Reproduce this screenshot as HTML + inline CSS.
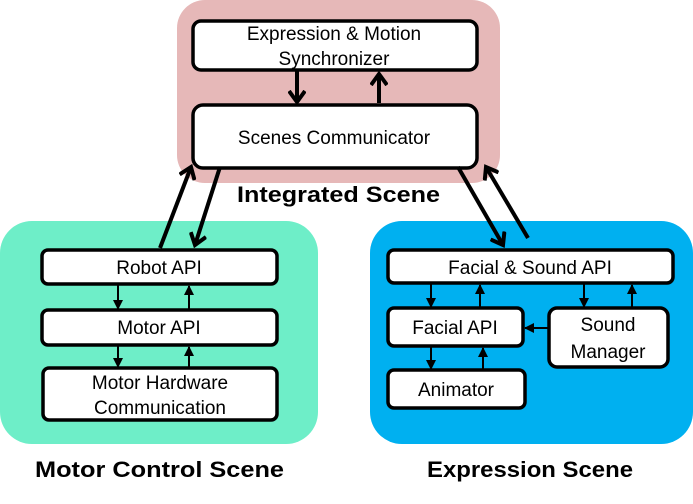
<!DOCTYPE html>
<html><head><style>body{margin:0;background:#fff}svg{display:block}</style></head><body>
<svg width="693" height="504" viewBox="0 0 693 504" xmlns="http://www.w3.org/2000/svg" font-family="Liberation Sans, sans-serif">
<defs>
<marker id="f" markerWidth="10" markerHeight="10" refX="9" refY="5" orient="auto" markerUnits="userSpaceOnUse"><path d="M0,0 L10,5 L0,10Z" fill="#000"/></marker>
<marker id="o2" markerWidth="16" markerHeight="18" refX="12" refY="9" orient="auto" markerUnits="userSpaceOnUse"><path d="M1,1 L12,9 L1,17" fill="none" stroke="#000" stroke-width="4"/></marker>
</defs>
<rect x="177" y="0" width="323" height="183" rx="28" fill="#e6b8b8"/>
<rect x="0" y="221" width="318" height="223" rx="32" fill="#6eeec8"/>
<rect x="370" y="221" width="323" height="223" rx="32" fill="#00b0f0"/>
<g fill="#fff" stroke="#000" stroke-width="3.5">
<rect x="193" y="21" width="284" height="49" rx="8"/>
<rect x="193" y="105" width="284" height="63" rx="10"/>
<rect x="42" y="250" width="235" height="34" rx="6"/>
<rect x="42" y="310" width="235" height="35" rx="6"/>
<rect x="43" y="368" width="234" height="52" rx="6"/>
<rect x="388" y="250" width="285" height="33" rx="6"/>
<rect x="388" y="308" width="135" height="38" rx="6"/>
<rect x="549" y="308" width="119" height="59" rx="8"/>
<rect x="388" y="370" width="137" height="38" rx="6"/>
</g>
<g stroke="#000" stroke-width="4" fill="none">
<line x1="297" y1="71" x2="297" y2="102" marker-end="url(#o2)"/>
<line x1="379" y1="103" x2="379" y2="74" marker-end="url(#o2)"/>
<line x1="160" y1="248" x2="191" y2="167" marker-end="url(#o2)"/>
<line x1="220" y1="167" x2="195" y2="245" marker-end="url(#o2)"/>
<line x1="458" y1="167" x2="503" y2="245" marker-end="url(#o2)"/>
<line x1="528" y1="238" x2="486" y2="167" marker-end="url(#o2)"/>
</g>
<g stroke="#000" stroke-width="2" fill="none">
<line x1="118" y1="285" x2="118" y2="309" marker-end="url(#f)"/>
<line x1="189" y1="309" x2="189" y2="286" marker-end="url(#f)"/>
<line x1="118" y1="346" x2="118" y2="367" marker-end="url(#f)"/>
<line x1="189" y1="367" x2="189" y2="347" marker-end="url(#f)"/>
<line x1="431" y1="284" x2="431" y2="307" marker-end="url(#f)"/>
<line x1="480" y1="307" x2="480" y2="285" marker-end="url(#f)"/>
<line x1="584" y1="284" x2="584" y2="307" marker-end="url(#f)"/>
<line x1="632" y1="307" x2="632" y2="285" marker-end="url(#f)"/>
<line x1="431" y1="347" x2="431" y2="369" marker-end="url(#f)"/>
<line x1="483" y1="369" x2="483" y2="348" marker-end="url(#f)"/>
<line x1="548" y1="328" x2="525" y2="328" marker-end="url(#f)"/>
</g>
<g font-size="19" text-anchor="middle" fill="#000">
<text x="334" y="40">Expression &amp; Motion</text>
<text x="334" y="65">Synchronizer</text>
<text x="334" y="144">Scenes Communicator</text>
<text x="159" y="274">Robot API</text>
<text x="159" y="334">Motor API</text>
<text x="160" y="389">Motor Hardware</text>
<text x="160" y="414">Communication</text>
<text x="530" y="274">Facial &amp; Sound API</text>
<text x="455" y="334">Facial API</text>
<text x="608" y="331">Sound</text>
<text x="608" y="358">Manager</text>
<text x="456" y="396">Animator</text>
</g>
<g font-size="22" font-weight="bold" fill="#000">
<text x="237" y="202" textLength="203" lengthAdjust="spacingAndGlyphs">Integrated Scene</text>
<text x="35" y="477" textLength="249" lengthAdjust="spacingAndGlyphs">Motor Control Scene</text>
<text x="427" y="477" textLength="206" lengthAdjust="spacingAndGlyphs">Expression Scene</text>
</g>
</svg>
</body></html>
